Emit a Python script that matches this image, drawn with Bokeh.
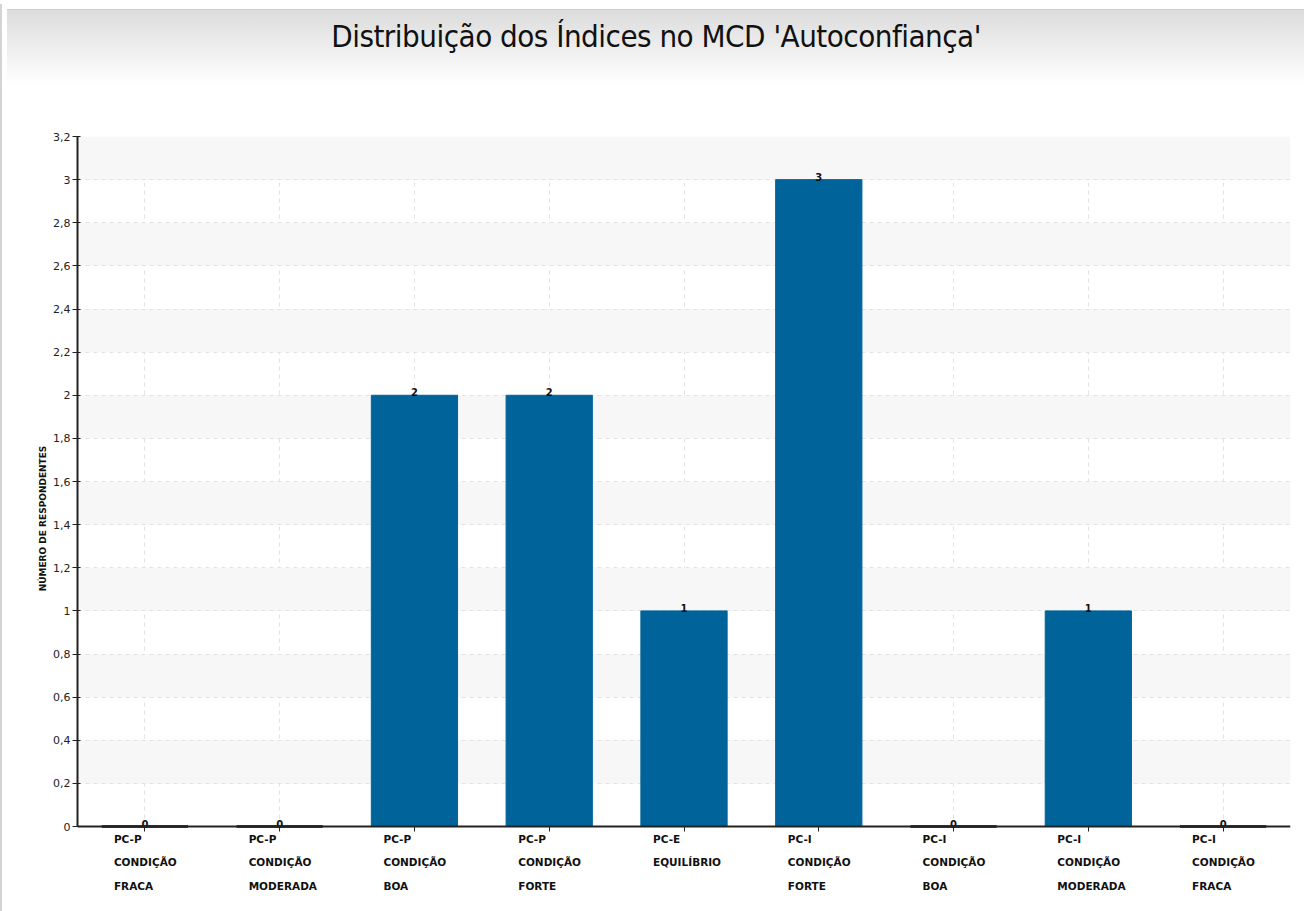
from bokeh.plotting import figure
from bokeh.models import (FactorRange, Range1d, FixedTicker, Div, ColumnDataSource)
from bokeh.layouts import column
from bokeh.core.properties import value
from bokeh.embed import file_html
from bokeh.resources import INLINE

title_text = "Distribuição dos Índices no MCD 'Autoconfiança'"
y_label = "NÚMERO DE RESPONDENTES"
cat_keys = ["PC-P FRACA", "PC-P MODERADA", "PC-P BOA", "PC-P FORTE", "PC-E EQUILÍBRIO",
            "PC-I FORTE", "PC-I BOA", "PC-I MODERADA", "PC-I FRACA"]
cat_line1 = ["PC-P", "PC-P", "PC-P", "PC-P", "PC-E", "PC-I", "PC-I", "PC-I", "PC-I"]
cat_line2 = ["CONDIÇÃO", "CONDIÇÃO", "CONDIÇÃO", "CONDIÇÃO", "EQUILÍBRIO",
             "CONDIÇÃO", "CONDIÇÃO", "CONDIÇÃO", "CONDIÇÃO"]
cat_line3 = ["FRACA", "MODERADA", "BOA", "FORTE", "", "FORTE", "BOA", "MODERADA", "FRACA"]
counts = [0, 0, 2, 2, 1, 3, 0, 1, 0]
y_ticks = [0, 0.2, 0.4, 0.6, 0.8, 1, 1.2, 1.4, 1.6, 1.8, 2, 2.2, 2.4, 2.6, 2.8, 3, 3.2]
y_tick_labels = ["0", "0,2", "0,4", "0,6", "0,8", "1", "1,2", "1,4", "1,6", "1,8",
                 "2", "2,2", "2,4", "2,6", "2,8", "3", "3,2"]
Y_MAX = 3.2

BAR = "#00649b"
ZERO = "#2e4150"
FONT = "DejaVu Sans"

src = ColumnDataSource(dict(
    x=cat_keys, top=counts, lbl=[str(c) for c in counts],
    line=[ZERO if c == 0 else BAR for c in counts],
    lw=[3 if c == 0 else 1 for c in counts],
    l1=cat_line1, l2=cat_line2, l3=cat_line3, base=[0] * len(cat_keys),
))

p = figure(x_range=FactorRange(*cat_keys), y_range=Range1d(-0.343, Y_MAX),
           width=1298, height=825, output_backend="svg", toolbar_location=None,
           min_border_top=46, min_border_left=75, min_border_right=10, min_border_bottom=15)
p.outline_line_color = None
p.background_fill_color = "white"
p.border_fill_color = "white"

p.vbar(x="x", top="top", width=0.64, source=src, fill_color=BAR,
       line_color="line", line_width="lw")
p.text(x="x", y="top", text="lbl", source=src, text_align="center", text_baseline="bottom",
       text_font=value(FONT), text_font_size="10px", text_font_style="bold",
       text_color="#111111", y_offset=1)

# category labels below the axis (left-aligned blocks, as in the reference)
for col, off in (("l1", 12), ("l2", 35), ("l3", 59)):
    p.text(x="x", y="base", text=col, source=src, text_align="left", text_baseline="middle",
           text_font=value(FONT), text_font_size="10.5px", text_font_style="bold",
           text_color="#111111", x_offset=-31, y_offset=off)

# y axis
p.yaxis.ticker = FixedTicker(ticks=y_ticks)
p.yaxis.bounds = (0, Y_MAX)
p.yaxis.major_label_overrides = {t: l for t, l in zip(y_ticks, y_tick_labels)}
p.yaxis.axis_label = y_label
p.yaxis.axis_label_text_font = FONT
p.yaxis.axis_label_text_font_size = "9px"
p.yaxis.axis_label_text_font_style = "bold"
p.yaxis.axis_label_text_color = "#111111"
p.yaxis.axis_label_standoff = 2
p.yaxis.major_label_standoff = 2
p.yaxis.major_label_text_font = FONT
p.yaxis.major_label_text_font_size = "11px"
p.yaxis.major_label_text_color = "#222222"
p.yaxis.axis_line_color = "#222222"
p.yaxis.axis_line_width = 2
p.yaxis.major_tick_line_color = "#222222"
p.yaxis.major_tick_in = 3
p.yaxis.major_tick_out = 5
p.yaxis.minor_tick_line_color = None

# x axis at y = 0
p.xaxis.fixed_location = 0
p.xaxis.axis_line_color = "#222222"
p.xaxis.axis_line_width = 2
p.xaxis.major_tick_line_color = "#222222"
p.xaxis.major_tick_in = 0
p.xaxis.major_tick_out = 5
p.xaxis.major_label_text_alpha = 0
p.xaxis.major_label_text_font_size = "1px"
p.xaxis.major_label_standoff = 0

# grids
p.ygrid.ticker = FixedTicker(ticks=y_ticks[1:])
p.ygrid.grid_line_color = "#e2e2e2"
p.ygrid.grid_line_dash = "4 4"
p.ygrid.band_fill_color = "#f7f7f7"
p.ygrid.band_fill_alpha = 1
p.xgrid.cross_bounds = (0, Y_MAX)
p.xgrid.grid_line_color = "#e2e2e2"
p.xgrid.grid_line_dash = "4 4"

header = Div(text=title_text, width=1298, height=76,
             styles={"background": "linear-gradient(#dcdcdc, #ffffff)",
                     "font-family": "'Liberation Sans Narrow', 'DejaVu Sans Condensed', sans-serif",
                     "font-size": "31px", "color": "#111111", "text-align": "center",
                     "width": "1298px", "height": "76px", "padding-top": "4px",
                     "box-sizing": "border-box", "border-top": "1px solid #cfcfcf",
                     "letter-spacing": "-0.5px"})

layout = column(header, p, styles={"border-left": "2px solid #d4d4d4", "margin-top": "4px"})

open("out.html", "w").write(file_html(layout, INLINE))
